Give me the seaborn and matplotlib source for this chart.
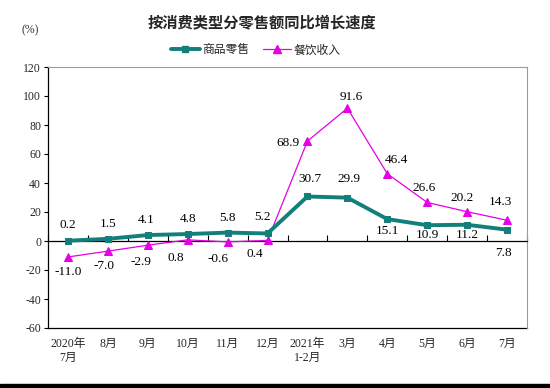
import numpy as np
import pandas as pd
import matplotlib
matplotlib.use("Agg")
import matplotlib.pyplot as plt
from matplotlib.lines import Line2D
from matplotlib.patches import Rectangle
import seaborn as sns

months = ["2020年\n7月", "8月", "9月", "10月", "11月", "12月", "2021年\n1-2月",
          "3月", "4月", "5月", "6月", "7月"]
retail = [0.2, 1.5, 4.1, 4.8, 5.8, 5.2, 30.7, 29.9, 15.1, 10.9, 11.2, 7.8]
catering = [-11.0, -7.0, -2.9, 0.8, -0.6, 0.4, 68.9, 91.6, 46.4, 26.6, 20.2, 14.3]
yticks = list(range(-60, 121, 20))

# label offsets in pixels (dx, dy up)
retail_off = [(0, 16), (0, 15), (-2, 15), (0, 15), (0, 15), (-5, 16),
              (2, 17), (2, 19), (0, -12), (0, -10), (0, -10), (-4, -23)]
catering_off = [(0, -15), (-4, -15), (-7, -17), (-12, -18), (-10, -17), (-13, -14),
                (-20, -2), (4, 11), (9, 14), (-3, 14), (-5, 14), (-7, 18)]

sns.set_theme(style="white")
plt.rcParams['font.family'] = ['Liberation Serif', 'Noto Sans CJK SC', 'DejaVu Sans']

teal = "#127F7B"
magenta = "#E600E6"

df = pd.DataFrame({"x": np.arange(len(months)), "retail": retail, "catering": catering})

fig = plt.figure(figsize=(5.5, 3.88), dpi=100)
ax = fig.add_axes([48 / 550, 60 / 388, 479 / 550, 261 / 388])

sns.lineplot(data=df, x="x", y="catering", ax=ax, color=magenta, linewidth=0.9,
             marker="^", markersize=6, markeredgecolor=magenta, zorder=3)
sns.lineplot(data=df, x="x", y="retail", ax=ax, color=teal, linewidth=2.8,
             marker="s", markersize=5, markeredgecolor=teal, zorder=4)

ax.set_xlim(-0.5, len(months) - 0.5)
ax.set_ylim(-60, 120)
ax.set_yticks(yticks)
ax.set_yticklabels([str(v) for v in yticks], fontsize=8.5)
ax.set_xlabel("")
ax.set_ylabel("")
ax.tick_params(axis="y", direction="out", length=3, width=0.8, color="black", pad=2, left=True)

# zero line axis with boundary ticks
ax.spines["bottom"].set_position(("data", 0))
ax.spines["bottom"].set_color("black")
ax.spines["bottom"].set_linewidth(0.9)
ax.set_xticks(np.arange(len(months)))
ax.set_xticks(np.arange(len(months) + 1) - 0.5, minor=True)
ax.tick_params(axis="x", which="major", length=0, labelbottom=False)
ax.tick_params(axis="x", which="minor", direction="in", length=4, width=0.8,
               color="black", bottom=True)
ax.spines["left"].set_color("black")
ax.spines["left"].set_linewidth(0.9)
for s in ["top", "right"]:
    ax.spines[s].set_color("#9A9A9A")
    ax.spines[s].set_linewidth(0.8)

sec = ax.secondary_xaxis("bottom")
sec.set_xticks(np.arange(len(months)))
sec.set_xticklabels(months, fontsize=8.5, linespacing=1.25)
sec.tick_params(length=0, pad=7)
sec.spines["bottom"].set_color("black")
sec.spines["bottom"].set_linewidth(0.9)

for i, (v, (dx, dy)) in enumerate(zip(retail, retail_off)):
    ax.annotate(f"{v:.1f}", (i, v), xytext=(dx * 0.72, dy * 0.72), textcoords="offset points",
                ha="center", va="center", fontsize=9.5, color="black")
for i, (v, (dx, dy)) in enumerate(zip(catering, catering_off)):
    ax.annotate(f"{v:.1f}", (i, v), xytext=(dx * 0.72, dy * 0.72), textcoords="offset points",
                ha="center", va="center", fontsize=9.5, color="black")

fig.text(262 / 550, 1 - 22 / 388, "按消费类型分零售额同比增长速度", ha="center", va="center",
         fontsize=11, fontweight="bold", family=['Noto Sans CJK SC', 'DejaVu Sans'])
fig.text(30 / 550, 1 - 30 / 388, "(%)", ha="center", va="center", fontsize=8.5, color="#333333")

handles = [Line2D([], [], color=teal, linewidth=2.8, marker="s", markersize=5),
           Line2D([], [], color=magenta, linewidth=0.9, marker="^", markersize=6)]
fig.legend(handles, ["商品零售", "餐饮收入"], loc="center", bbox_to_anchor=(256 / 550, 1 - 50 / 388),
           ncol=2, frameon=False, handlelength=2.4, columnspacing=1.2,
           handletextpad=0.2, prop={'family': ['Noto Sans CJK SC', 'DejaVu Sans'], 'size': 8.5})

fig.patches.append(Rectangle((0, 0), 1, 4 / 388, transform=fig.transFigure,
                             color="black", zorder=10))

fig.savefig("out.png", dpi=100)
